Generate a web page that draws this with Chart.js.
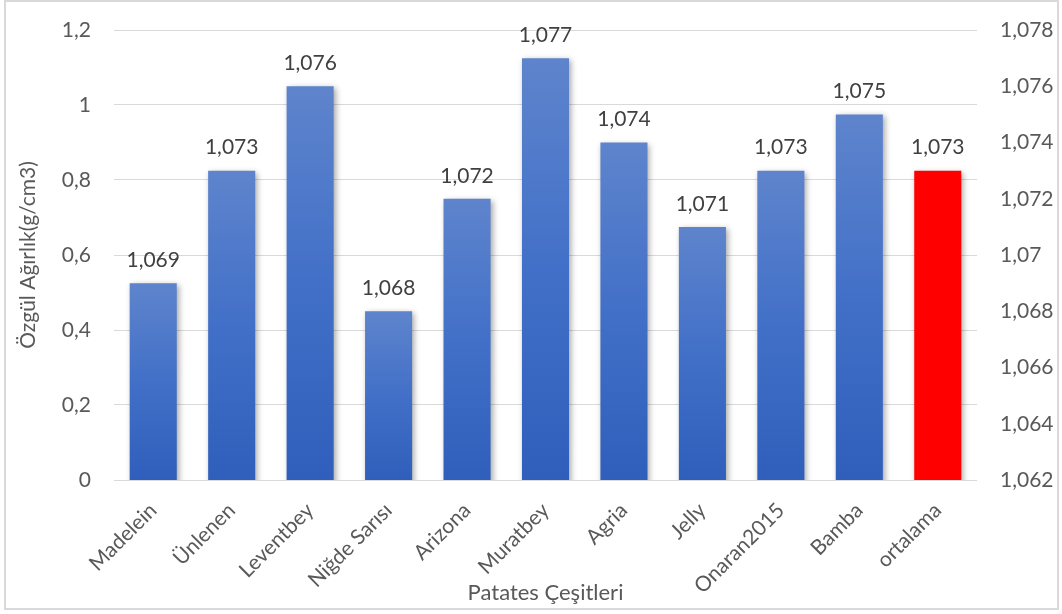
<!DOCTYPE html>
<html>
<head>
<meta charset="utf-8">
<script src="https://cdn.jsdelivr.net/npm/chart.js@4.4.1/dist/chart.umd.min.js"></script>
<style>
  html, body { margin: 0; padding: 0; background: #fff; }
  #wrap { position: relative; width: 1062px; height: 614px; }
</style>
</head>
<body>
<div id="wrap"><canvas id="densityChart" width="1062" height="614"></canvas></div>
<script>
var varieties = ['Madelein', 'Ünlenen', 'Leventbey', 'Niğde Sarısı', 'Arizona', 'Muratbey',
                 'Agria', 'Jelly', 'Onaran2015', 'Bamba', 'ortalama'];
var density = [1.069, 1.073, 1.076, 1.068, 1.072, 1.077, 1.074, 1.071, 1.073, 1.075, 1.073];
var leftTicks = [0, 0.2, 0.4, 0.6, 0.8, 1, 1.2];
var rightTicks = [1.062, 1.064, 1.066, 1.068, 1.07, 1.072, 1.074, 1.076, 1.078];

var FONT = 'Lato, "Open Sans", sans-serif';

function trNum(v) {
  return String(+v.toFixed(3)).replace('.', ',');
}

// each bar gets its own light-to-dark fill; the average bar is plain red
function barFill(c) {
  if (c.dataIndex === varieties.length - 1) return '#ff0000';
  var chart = c.chart, s = chart.scales.y1;
  if (!s || !chart.chartArea) return '#4472c4';
  var top = s.getPixelForValue(c.raw), base = s.getPixelForValue(s.min);
  var g = chart.ctx.createLinearGradient(0, top, 0, base);
  g.addColorStop(0, '#5e84cc');
  g.addColorStop(0.5, '#4270c8');
  g.addColorStop(1, '#2f5fbb');
  return g;
}

var frame = {
  id: 'frame',
  beforeDraw: function (chart) {
    var ctx = chart.ctx;
    ctx.save();
    ctx.strokeStyle = '#d9d9d9';
    ctx.lineWidth = 2;
    ctx.strokeRect(5, 1, 1053, 608);
    ctx.restore();
  }
};

var barShadow = {
  id: 'barShadow',
  beforeDatasetDraw: function (chart) {
    var ctx = chart.ctx;
    ctx.save();
    ctx.shadowColor = 'rgba(0,0,0,0.35)';
    ctx.shadowBlur = 6;
    ctx.shadowOffsetX = 2;
    ctx.shadowOffsetY = 2;
  },
  afterDatasetDraw: function (chart) {
    chart.ctx.restore();
  }
};

var valueLabels = {
  id: 'valueLabels',
  afterDatasetsDraw: function (chart) {
    var ctx = chart.ctx;
    var meta = chart.getDatasetMeta(0);
    ctx.save();
    ctx.font = '21px ' + FONT;
    ctx.fillStyle = '#404040';
    ctx.textAlign = 'center';
    ctx.textBaseline = 'middle';
    meta.data.forEach(function (bar, i) {
      ctx.fillText(trNum(density[i]), bar.x, bar.y - 23);
    });
    ctx.restore();
  }
};

// invisible tick marks keep the value labels 23px away from the plot
var gapGrid = { color: '#d9d9d9', lineWidth: 1, drawTicks: true, tickLength: 23, tickColor: 'rgba(0,0,0,0)' };

new Chart(document.getElementById('densityChart'), {
  type: 'bar',
  data: {
    labels: varieties,
    datasets: [{
      data: density,
      yAxisID: 'y1',
      backgroundColor: barFill,
      borderWidth: 0,
      barPercentage: 0.6,
      categoryPercentage: 1
    }]
  },
  options: {
    responsive: false,
    animation: false,
    layout: { padding: { top: 30, bottom: 5, left: 0, right: 0 } },
    plugins: {
      legend: { display: false },
      tooltip: { enabled: false }
    },
    scales: {
      x: {
        grid: { display: false },
        border: { display: false },
        ticks: {
          color: '#595959',
          font: { family: FONT, size: 21 },
          minRotation: 45,
          maxRotation: 45,
          autoSkip: false,
          padding: 10
        },
        title: {
          display: true,
          text: 'Patates Çeşitleri',
          color: '#595959',
          font: { family: FONT, size: 22 },
          padding: { top: 0, bottom: 3 }
        },
        afterFit: function (s) { s.height = 129; }
      },
      y: {
        position: 'left',
        min: 0,
        max: 1.2,
        afterBuildTicks: function (s) {
          s.ticks = leftTicks.map(function (v) { return { value: v }; });
        },
        grid: gapGrid,
        border: { display: false },
        ticks: {
          color: '#595959',
          font: { family: FONT, size: 21 },
          padding: 0,
          callback: function (v) { return trNum(v); }
        },
        title: {
          display: true,
          text: 'Özgül Ağırlık(g/cm3)',
          color: '#595959',
          font: { family: FONT, size: 21 },
          padding: { top: 16, bottom: 4 }
        },
        afterFit: function (s) { s.width = 114; }
      },
      y1: {
        position: 'right',
        min: 1.062,
        max: 1.078,
        afterBuildTicks: function (s) {
          s.ticks = rightTicks.map(function (v) { return { value: v }; });
        },
        grid: Object.assign({}, gapGrid, { drawOnChartArea: false }),
        border: { display: false },
        ticks: {
          color: '#595959',
          font: { family: FONT, size: 21 },
          padding: 0,
          callback: function (v) { return trNum(v); }
        },
        afterFit: function (s) { s.width = 85; }
      }
    }
  },
  plugins: [frame, barShadow, valueLabels]
});
</script>
</body>
</html>
